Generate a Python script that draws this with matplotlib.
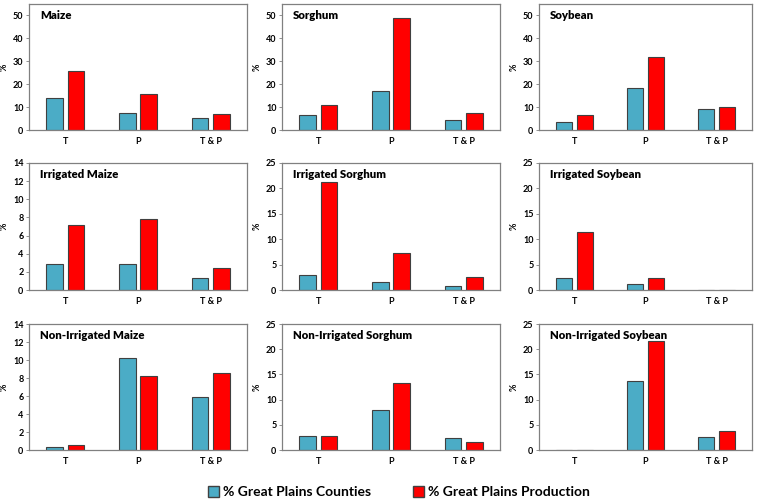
import matplotlib
matplotlib.use("Agg")
import matplotlib.pyplot as plt
from matplotlib.patches import Patch
import numpy as np

# ── data ──────────────────────────────────────────────────────────────────────
categories = ["T", "P", "T & P"]
titles = [
    "Maize", "Sorghum", "Soybean",
    "Irrigated Maize", "Irrigated Sorghum", "Irrigated Soybean",
    "Non-Irrigated Maize", "Non-Irrigated Sorghum", "Non-Irrigated Soybean",
]
counties = [
    [14.0, 7.3, 5.1], [6.5, 16.9, 4.3], [3.5, 18.2, 9.3],
    [2.9, 2.9, 1.3], [3.0, 1.5, 0.7], [2.3, 1.1, 0.0],
    [0.3, 10.2, 5.9], [2.7, 7.9, 2.3], [0.0, 13.7, 2.6],
]
production = [
    [25.6, 15.7, 6.9], [11.1, 49.0, 7.3], [6.4, 32.0, 10.0],
    [7.2, 7.8, 2.4], [21.2, 7.3, 2.5], [11.4, 2.3, 0.0],
    [0.6, 8.2, 8.6], [2.8, 13.2, 1.6], [0.0, 21.6, 3.8],
]
ylims = [55, 55, 55, 14, 25, 25, 14, 25, 25]
ysteps = [10, 10, 10, 2, 5, 5, 2, 5, 5]

BLUE = "#4bacc6"
RED = "#ff0000"
EDGE = "#404040"
SPINE = "#808080"

plt.rcParams["font.family"] = ["Lato", "DejaVu Sans"]

fig = plt.figure(figsize=(7.6, 5), dpi=100)

# axes boxes in pixels (left, right) per column and (top, bottom) per row
cols = [(29, 247), (282, 500), (539, 752)]
rows = [(4, 130), (163, 290), (324, 450)]
W, H = 760, 500

x = np.arange(len(categories))
bw = 0.23
off = 0.145

for i, title in enumerate(titles):
    r, c = divmod(i, 3)
    l, rr = cols[c]
    t, b = rows[r]
    ax = fig.add_axes([l / W, 1 - b / H, (rr - l) / W, (b - t) / H])
    ax.bar(x - off, counties[i], bw, color=BLUE, edgecolor=EDGE, linewidth=0.8)
    ax.bar(x + off, production[i], bw, color=RED, edgecolor=EDGE, linewidth=0.8)
    ax.set_xlim(-0.5, 2.5)
    ax.set_ylim(0, ylims[i])
    ax.set_yticks(np.arange(0, ylims[i] + 0.01, ysteps[i]))
    ax.set_xticks(x)
    ax.set_xticklabels(categories, fontsize=6.5, fontweight="bold")
    ax.tick_params(axis="y", labelsize=6.5, length=2, width=0.6, color=SPINE, pad=2)
    for lab in ax.get_yticklabels():
        lab.set_fontweight("bold")
    ax.tick_params(axis="x", length=0, pad=5)
    for s in ax.spines.values():
        s.set_color(SPINE)
        s.set_linewidth(0.9)
    ax.set_ylabel("%", fontsize=6.5, fontweight="bold", labelpad=3)
    ax.text(0.05, 0.955, title, transform=ax.transAxes, fontsize=8.2,
            fontweight="heavy", va="top", ha="left")

handles = [Patch(facecolor=BLUE, edgecolor=EDGE, label="% Great Plains Counties"),
           Patch(facecolor=RED, edgecolor=EDGE, label="% Great Plains Production")]
fig.legend(handles=handles, loc="center", bbox_to_anchor=(0.525, 0.016), ncol=2,
           frameon=False, prop={"weight": "bold", "size": 10},
           handlelength=0.8, handleheight=0.8, handletextpad=0.3, columnspacing=3)

fig.savefig("out.png", dpi=100, facecolor="white")
